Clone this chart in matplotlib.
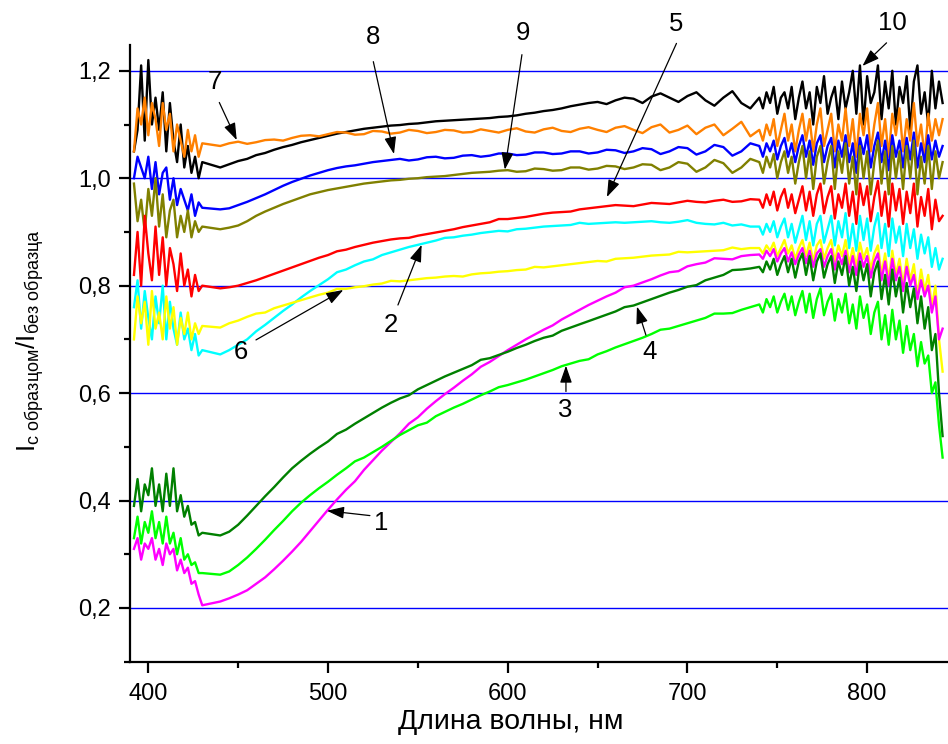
import matplotlib
matplotlib.use('Agg')
import matplotlib.pyplot as plt
from matplotlib.ticker import FixedLocator, FixedFormatter, MultipleLocator

plt.rcParams['font.family'] = ['Liberation Sans', 'DejaVu Sans']
plt.rcParams['mathtext.fontset'] = 'custom'
plt.rcParams['mathtext.rm'] = 'Liberation Sans'
plt.rcParams['mathtext.it'] = 'Liberation Sans:italic'

# wavelength grid (nm): dense at the noisy ends, 5 nm in the smoother middle
wl_left = list(range(392, 431, 2))     # 20 points
wl_mid = list(range(440, 736, 5))      # 60 points
wl_right = list(range(740, 843, 2))    # 52 points
wavelength = wl_left + wl_mid + wl_right

curve1 = [0.31,0.33,0.29,0.32,0.31,0.33,0.29,0.31,0.28,0.32,0.30,0.31,0.27,0.29,0.265,0.275,0.245,0.25,0.225,0.205,
          0.212,0.218,0.225,0.233,0.245,0.257,0.272,0.288,0.305,0.323,
          0.343,0.363,0.383,0.402,0.42,0.436,0.457,0.475,0.493,0.509,
          0.525,0.543,0.555,0.571,0.585,0.598,0.61,0.623,0.635,0.649,
          0.658,0.669,0.68,0.69,0.70,0.709,0.718,0.726,0.737,0.746,
          0.755,0.764,0.772,0.78,0.787,0.797,0.80,0.806,0.812,0.819,
          0.825,0.827,0.836,0.84,0.843,0.851,0.85,0.849,0.855,0.857,
          0.858,0.85,0.865,0.855,0.868,0.845,0.86,0.87,0.845,0.862,
          0.84,0.858,0.87,0.842,0.865,0.835,0.86,0.868,0.835,0.855,
          0.868,0.83,0.86,0.84,0.865,0.825,0.855,0.82,0.86,0.835,
          0.855,0.815,0.845,0.86,0.81,0.845,0.80,0.85,0.81,0.835,
          0.79,0.835,0.80,0.82,0.775,0.81,0.78,0.80,0.75,0.78,
          0.70,0.72]
curve2 = [0.76,0.81,0.72,0.79,0.74,0.70,0.78,0.73,0.80,0.70,0.77,0.72,0.69,0.75,0.70,0.72,0.68,0.71,0.67,0.68,
          0.672,0.68,0.69,0.70,0.715,0.727,0.74,0.753,0.765,0.778,
          0.79,0.801,0.812,0.825,0.83,0.838,0.845,0.849,0.857,0.862,
          0.867,0.872,0.876,0.88,0.884,0.889,0.89,0.893,0.895,0.898,
          0.90,0.902,0.901,0.905,0.906,0.908,0.91,0.911,0.912,0.913,
          0.917,0.915,0.916,0.917,0.918,0.917,0.918,0.919,0.92,0.918,
          0.917,0.919,0.922,0.917,0.915,0.914,0.917,0.912,0.914,0.91,
          0.91,0.895,0.915,0.90,0.92,0.89,0.91,0.925,0.89,0.915,
          0.88,0.905,0.93,0.885,0.92,0.875,0.915,0.93,0.88,0.905,
          0.93,0.875,0.92,0.89,0.935,0.87,0.915,0.865,0.93,0.885,
          0.925,0.865,0.91,0.935,0.87,0.915,0.855,0.925,0.88,0.91,
          0.855,0.915,0.87,0.905,0.85,0.895,0.86,0.89,0.835,0.87,
          0.83,0.85]
curve3 = [0.33,0.37,0.32,0.36,0.34,0.38,0.33,0.36,0.32,0.37,0.32,0.34,0.30,0.33,0.29,0.30,0.28,0.285,0.265,0.265,
          0.262,0.268,0.28,0.294,0.31,0.327,0.345,0.362,0.38,0.396,
          0.41,0.423,0.435,0.448,0.46,0.473,0.48,0.49,0.50,0.511,
          0.522,0.531,0.54,0.545,0.557,0.565,0.573,0.58,0.588,0.596,
          0.603,0.611,0.615,0.62,0.625,0.631,0.637,0.643,0.65,0.655,
          0.66,0.663,0.672,0.678,0.685,0.691,0.697,0.703,0.71,0.718,
          0.72,0.725,0.73,0.735,0.74,0.748,0.748,0.749,0.755,0.76,
          0.765,0.75,0.775,0.76,0.78,0.75,0.77,0.785,0.755,0.78,
          0.745,0.77,0.79,0.75,0.785,0.74,0.775,0.795,0.745,0.77,
          0.785,0.735,0.775,0.75,0.785,0.73,0.765,0.72,0.78,0.74,
          0.765,0.71,0.75,0.77,0.70,0.745,0.69,0.755,0.70,0.735,
          0.675,0.725,0.68,0.71,0.65,0.695,0.655,0.67,0.60,0.62,
          0.54,0.48]
curve4 = [0.39,0.44,0.38,0.43,0.41,0.46,0.39,0.43,0.38,0.45,0.39,0.46,0.38,0.41,0.37,0.39,0.355,0.36,0.335,0.34,
          0.335,0.342,0.355,0.372,0.39,0.408,0.425,0.443,0.46,0.474,
          0.487,0.499,0.51,0.524,0.532,0.543,0.553,0.563,0.573,0.582,
          0.59,0.596,0.607,0.615,0.623,0.631,0.638,0.645,0.652,0.662,
          0.665,0.671,0.677,0.684,0.69,0.697,0.703,0.707,0.716,0.722,
          0.728,0.734,0.74,0.746,0.752,0.76,0.763,0.769,0.775,0.781,
          0.787,0.792,0.798,0.801,0.81,0.815,0.82,0.829,0.83,0.832,
          0.835,0.825,0.845,0.83,0.85,0.82,0.84,0.855,0.825,0.85,
          0.815,0.845,0.86,0.82,0.855,0.81,0.845,0.86,0.815,0.84,
          0.855,0.805,0.845,0.82,0.855,0.80,0.835,0.79,0.845,0.81,
          0.84,0.78,0.825,0.845,0.775,0.82,0.765,0.83,0.78,0.815,
          0.75,0.805,0.76,0.795,0.73,0.78,0.72,0.76,0.68,0.71,
          0.60,0.52]
curve5 = [0.82,0.90,0.80,0.93,0.86,0.81,0.91,0.82,0.89,0.80,0.87,0.84,0.79,0.86,0.80,0.83,0.78,0.82,0.79,0.80,
          0.795,0.797,0.80,0.805,0.81,0.816,0.822,0.828,0.834,0.84,
          0.846,0.852,0.857,0.864,0.867,0.872,0.876,0.88,0.883,0.886,
          0.888,0.889,0.893,0.896,0.899,0.902,0.905,0.909,0.912,0.915,
          0.918,0.924,0.924,0.926,0.928,0.931,0.934,0.936,0.937,0.938,
          0.942,0.944,0.946,0.948,0.95,0.949,0.948,0.951,0.954,0.953,
          0.952,0.955,0.958,0.956,0.955,0.958,0.96,0.956,0.957,0.961,
          0.96,0.945,0.97,0.95,0.975,0.94,0.965,0.98,0.945,0.97,
          0.935,0.96,0.985,0.94,0.975,0.93,0.97,0.99,0.935,0.965,
          0.985,0.925,0.97,0.945,0.99,0.93,0.975,0.915,0.99,0.95,
          0.985,0.92,0.965,0.995,0.93,0.975,0.91,0.99,0.94,0.98,
          0.915,0.975,0.935,0.99,0.91,0.965,0.93,0.98,0.905,0.96,
          0.92,0.93]
curve6 = [0.70,0.78,0.73,0.77,0.69,0.79,0.72,0.75,0.70,0.78,0.72,0.76,0.69,0.74,0.71,0.75,0.70,0.73,0.71,0.725,
          0.722,0.73,0.735,0.742,0.748,0.75,0.758,0.763,0.768,0.773,
          0.778,0.783,0.787,0.794,0.794,0.797,0.799,0.802,0.804,0.809,
          0.808,0.81,0.812,0.814,0.815,0.817,0.818,0.817,0.821,0.823,
          0.824,0.826,0.827,0.829,0.83,0.835,0.834,0.836,0.838,0.84,
          0.842,0.844,0.846,0.845,0.85,0.851,0.852,0.854,0.856,0.857,
          0.858,0.863,0.862,0.863,0.864,0.865,0.866,0.871,0.868,0.87,
          0.87,0.86,0.875,0.865,0.88,0.855,0.87,0.885,0.86,0.875,
          0.85,0.87,0.885,0.855,0.88,0.845,0.875,0.885,0.85,0.87,
          0.885,0.845,0.875,0.855,0.885,0.84,0.87,0.835,0.88,0.85,
          0.87,0.83,0.86,0.875,0.82,0.86,0.81,0.865,0.82,0.85,
          0.80,0.85,0.81,0.84,0.78,0.83,0.79,0.82,0.76,0.80,
          0.70,0.64]
curve7 = [1.05,1.13,1.10,1.15,1.08,1.14,1.11,1.06,1.14,1.09,1.12,1.05,1.10,1.07,1.04,1.09,1.05,1.08,1.04,1.065,
          1.06,1.065,1.068,1.064,1.067,1.071,1.072,1.07,1.075,1.079,
          1.08,1.078,1.082,1.086,1.085,1.081,1.082,1.088,1.087,1.083,
          1.085,1.09,1.088,1.084,1.086,1.09,1.089,1.085,1.086,1.091,
          1.088,1.085,1.09,1.093,1.087,1.085,1.091,1.094,1.088,1.086,
          1.092,1.095,1.09,1.086,1.094,1.097,1.09,1.084,1.095,1.10,
          1.085,1.09,1.098,1.082,1.094,1.10,1.08,1.092,1.105,1.078,
          1.09,1.07,1.10,1.08,1.11,1.06,1.09,1.12,1.07,1.10,
          1.05,1.09,1.12,1.07,1.11,1.05,1.10,1.13,1.06,1.09,
          1.12,1.05,1.10,1.07,1.13,1.06,1.11,1.04,1.12,1.08,
          1.13,1.05,1.10,1.14,1.06,1.11,1.04,1.12,1.08,1.13,
          1.05,1.11,1.07,1.14,1.06,1.10,1.04,1.12,1.07,1.11,
          1.08,1.11]
curve8 = [1.00,1.04,1.02,1.00,1.04,0.98,1.03,0.97,1.01,1.02,0.96,1.00,0.95,0.98,0.96,0.94,0.97,0.93,0.955,0.945,
          0.942,0.944,0.95,0.956,0.963,0.97,0.978,0.986,0.993,0.999,
          1.005,1.01,1.015,1.019,1.022,1.024,1.027,1.03,1.032,1.034,
          1.036,1.033,1.035,1.039,1.04,1.037,1.038,1.042,1.043,1.04,
          1.042,1.046,1.046,1.043,1.044,1.048,1.048,1.045,1.046,1.05,
          1.05,1.046,1.048,1.053,1.052,1.047,1.05,1.056,1.054,1.045,
          1.05,1.058,1.056,1.044,1.05,1.062,1.058,1.042,1.05,1.065,
          1.06,1.04,1.065,1.05,1.07,1.035,1.06,1.075,1.04,1.065,
          1.03,1.06,1.08,1.04,1.07,1.025,1.065,1.08,1.03,1.06,
          1.075,1.02,1.07,1.04,1.08,1.03,1.065,1.01,1.075,1.045,
          1.08,1.02,1.06,1.085,1.03,1.07,1.015,1.08,1.04,1.07,
          1.02,1.075,1.035,1.085,1.02,1.065,1.03,1.08,1.035,1.07,
          1.04,1.06]
curve9 = [0.99,0.92,0.96,0.90,0.98,0.93,1.00,0.91,0.97,0.89,0.94,0.96,0.89,0.93,0.90,0.94,0.89,0.92,0.90,0.91,
          0.905,0.908,0.912,0.92,0.93,0.938,0.945,0.952,0.958,0.964,
          0.97,0.974,0.978,0.981,0.984,0.987,0.99,0.992,0.994,0.996,
          0.997,0.999,1.0,1.002,1.003,1.004,1.006,1.008,1.01,1.011,
          1.012,1.014,1.015,1.012,1.013,1.018,1.017,1.014,1.015,1.02,
          1.02,1.016,1.018,1.023,1.022,1.017,1.02,1.026,1.025,1.015,
          1.02,1.03,1.027,1.012,1.02,1.034,1.028,1.01,1.02,1.036,
          1.03,1.01,1.04,1.02,1.045,1.00,1.03,1.05,1.01,1.04,
          0.99,1.03,1.06,1.00,1.05,0.98,1.04,1.06,0.99,1.03,
          1.06,0.98,1.05,1.01,1.065,0.99,1.04,0.97,1.06,1.00,
          1.05,0.97,1.03,1.07,0.99,1.05,0.97,1.06,1.00,1.05,
          0.98,1.06,1.00,1.07,0.97,1.04,0.99,1.06,0.98,1.05,
          1.00,1.03]
curve10 = [1.05,1.09,1.21,1.07,1.22,1.10,1.15,1.09,1.16,1.05,1.14,1.07,1.03,1.10,1.02,1.06,1.01,1.04,1.00,1.03,
           1.02,1.026,1.032,1.036,1.043,1.047,1.053,1.058,1.062,1.067,
           1.071,1.075,1.079,1.083,1.086,1.089,1.092,1.094,1.096,1.098,
           1.099,1.101,1.102,1.104,1.106,1.107,1.108,1.109,1.11,1.111,
           1.112,1.114,1.115,1.117,1.12,1.122,1.125,1.127,1.13,1.134,
           1.137,1.14,1.142,1.138,1.145,1.15,1.148,1.14,1.152,1.158,
           1.15,1.142,1.153,1.16,1.145,1.135,1.15,1.162,1.14,1.13,
           1.15,1.13,1.16,1.14,1.17,1.12,1.15,1.16,1.13,1.17,
           1.11,1.15,1.18,1.13,1.16,1.10,1.17,1.14,1.19,1.12,
           1.15,1.17,1.11,1.18,1.13,1.16,1.20,1.12,1.21,1.10,
           1.19,1.14,1.16,1.21,1.11,1.18,1.13,1.20,1.10,1.17,
           1.14,1.19,1.09,1.18,1.21,1.12,1.16,1.10,1.20,1.13,
           1.18,1.14]

series = {
    '10': (curve10, '#000000'),
    '7': (curve7, '#ff8000'),
    '8': (curve8, '#0000ff'),
    '9': (curve9, '#808000'),
    '5': (curve5, '#ff0000'),
    '2': (curve2, '#00ffff'),
    '6': (curve6, '#ffff00'),
    '1': (curve1, '#ff00ff'),
    '3': (curve3, '#00ff00'),
    '4': (curve4, '#008000'),
}

x_ticks = [400, 500, 600, 700, 800]
x_ticklabels = ['400', '500', '600', '700', '800']
y_ticks = [0.2, 0.4, 0.6, 0.8, 1.0, 1.2]
y_ticklabels = ['0,2', '0,4', '0,6', '0,8', '1,0', '1,2']

# curve labels: (text, text position, arrow tail, arrow tip) in data coords
labels = [
    ('1', (529.4, 0.359), (523.3, 0.372), (499.4, 0.381)),
    ('2', (535.0, 0.727), (538.9, 0.764), (552.1, 0.876)),
    ('3', (631.8, 0.569), (632.4, 0.603), (632.4, 0.651)),
    ('4', (679.1, 0.677), (676.9, 0.708), (671.9, 0.761)),
    ('5', (693.9, 1.288), (693.9, 1.251), (655.2, 0.965)),
    ('6', (451.5, 0.677), (459.9, 0.699), (508.5, 0.792)),
    ('7', (437.1, 1.180), (439.5, 1.141), (449.2, 1.071)),
    ('8', (525.0, 1.263), (525.2, 1.217), (536.7, 1.045)),
    ('9', (608.4, 1.271), (607.9, 1.230), (598.4, 1.016)),
    ('10', (814.1, 1.289), (810.8, 1.252), (797.4, 1.209)),
]

fig = plt.figure(figsize=(9.48, 7.44), dpi=100)
ax = fig.add_axes([130 / 948, 1 - 661.7 / 744, (948 - 130) / 948, (661.7 - 45) / 744])

for name, (vals, col) in series.items():
    n = min(len(wavelength), len(vals))
    ax.plot(wavelength[:n], vals[:n], color=col, lw=1.7, zorder=3)

ax.set_xlim(389.8, 845)
ax.set_ylim(0.1, 1.248)

ax.yaxis.grid(True, color='#0000ff', lw=1.0, zorder=1)
ax.set_axisbelow(True)

for s in ('top', 'right'):
    ax.spines[s].set_visible(False)
for s in ('left', 'bottom'):
    ax.spines[s].set_linewidth(1.6)

ax.xaxis.set_major_locator(FixedLocator(x_ticks))
ax.xaxis.set_major_formatter(FixedFormatter(x_ticklabels))
ax.xaxis.set_minor_locator(MultipleLocator(50))
ax.yaxis.set_major_locator(FixedLocator(y_ticks))
ax.yaxis.set_major_formatter(FixedFormatter(y_ticklabels))
ax.yaxis.set_minor_locator(MultipleLocator(0.1))
ax.tick_params(which='major', direction='out', length=8, width=1.6, labelsize=17)
ax.tick_params(which='minor', direction='out', length=4.5, width=1.6)
ax.tick_params(axis='x', which='major', pad=7)
ax.tick_params(axis='y', which='major', pad=6)

ax.set_xlabel('Длина волны, нм', fontsize=20.5)
ax.xaxis.set_label_coords(0.466, -0.076)
ax.set_ylabel(r'$\mathregular{I_{с\ образцом}/I_{без\ образца}}$', fontsize=18.5)
ax.yaxis.set_label_coords(-0.103, 0.52)

for txt, tpos, tail, tip in labels:
    ax.text(tpos[0], tpos[1], txt, fontsize=18.5, ha='center', va='center', clip_on=False, zorder=6)
    ax.annotate('', xy=tip, xytext=tail, annotation_clip=False, zorder=6,
                arrowprops=dict(arrowstyle='-|>,head_length=0.8,head_width=0.28', color='black',
                                lw=0.9, mutation_scale=13, shrinkA=0, shrinkB=0))

fig.savefig('out.png', dpi=100)
